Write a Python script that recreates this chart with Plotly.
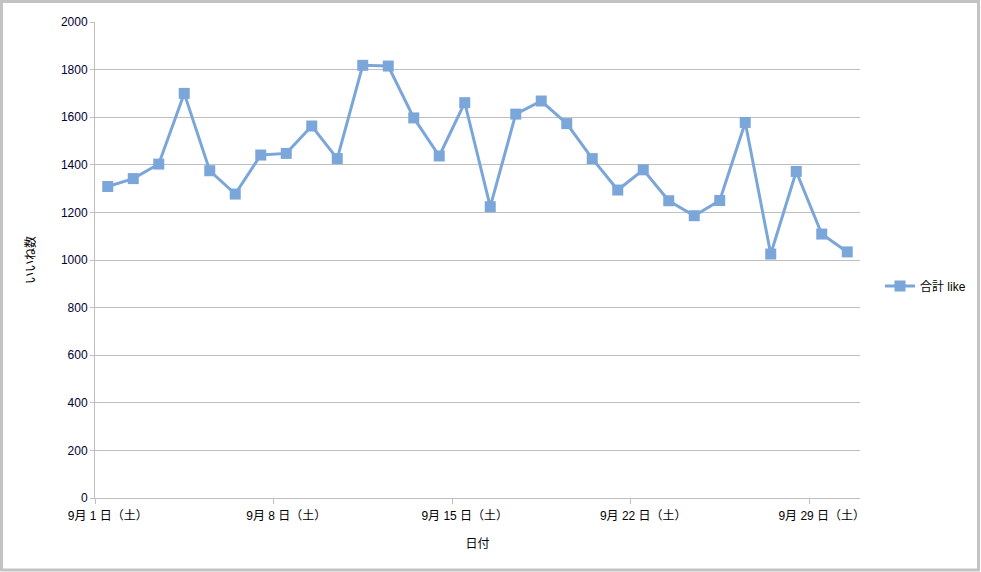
"""9月の日別いいね数 — 折れ線グラフ"""
import plotly.graph_objects as go

DAYS = list(range(1, 31))
WEEKDAYS = ["土", "日", "月", "火", "水", "木", "金"]
LIKES = [1309, 1342, 1403, 1700, 1375, 1277, 1441, 1448, 1563, 1426,
         1818, 1815, 1597, 1437, 1661, 1224, 1613, 1668, 1573, 1426,
         1294, 1379, 1249, 1186, 1250, 1578, 1025, 1372, 1109, 1034]
Y_TICKS = list(range(0, 2001, 200))

LINE_COLOR = "#7BA6DA"
GRID_COLOR = "#BFBFBF"
FONT = "'Liberation Sans', 'Noto Sans CJK JP', sans-serif"

labels = [f"9月 {d} 日（{WEEKDAYS[(d - 1) % 7]}）" for d in DAYS]

fig = go.Figure(go.Scatter(
    x=labels, y=LIKES, name="合計 like",
    mode="lines+markers",
    line=dict(color=LINE_COLOR, width=3),
    marker=dict(symbol="square", size=11, color=LINE_COLOR),
))

# 外枠 (px -> paper 換算: plot 95..860 x 22..498)
L, R, T, B = 95, 860, 22, 498
px = lambda v: (v - L) / (R - L)
py = lambda v: (B - v) / (B - T)
fig.add_shape(type="rect", xref="paper", yref="paper",
              x0=px(1.5), x1=px(978.5), y0=py(570), y1=py(1.5),
              line=dict(color="#C3C3C3", width=3), layer="below")

fig.update_layout(
    width=981, height=572,
    plot_bgcolor="white", paper_bgcolor="white",
    font=dict(family=FONT, size=12, color="#000000"),
    margin=dict(l=L, r=981 - R, t=T, b=572 - B, autoexpand=False),
    showlegend=True,
    legend=dict(x=px(880), y=py(286), xanchor="left", yanchor="middle",
                font=dict(size=12), itemwidth=30),
    xaxis=dict(
        type="category", tickson="boundaries", dtick=7, tickangle=0,
        automargin=False,
        showgrid=False, showline=True, linecolor=GRID_COLOR, linewidth=1,
        ticks="outside", ticklen=5, tickcolor=GRID_COLOR,
        tickfont=dict(size=12), range=[-0.5, 29.5], ticklabelstandoff=7,
        title=dict(text="日付", font=dict(size=12), standoff=17),
    ),
    yaxis=dict(
        range=[0, 2000], tickvals=Y_TICKS, automargin=False,
        showgrid=True, gridcolor=GRID_COLOR, gridwidth=1,
        showline=True, linecolor=GRID_COLOR, linewidth=1,
        ticks="outside", ticklen=4, tickcolor=GRID_COLOR,
        tickfont=dict(size=12, color="#000033"), zeroline=False,
        title=dict(text="いいね数", font=dict(size=12), standoff=22),
    ),
)

# ページ余白を消して 981x572 にぴったり合わせる
fig.write_html("out.html", config={"displayModeBar": False},
               post_script="document.body.style.margin='0';")
